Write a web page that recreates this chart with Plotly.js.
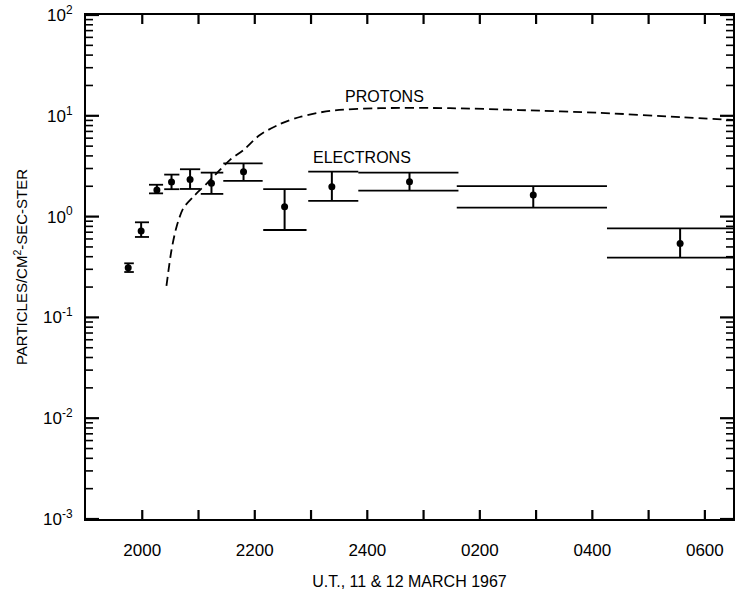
<!DOCTYPE html>
<html>
<head>
<meta charset="utf-8">
<script src="https://cdn.plot.ly/plotly-3.0.1.min.js"></script>
<style>
  html, body { margin: 0; padding: 0; background: #fff; }
  #chart { width: 736px; height: 592px; }
</style>
</head>
<body>
<div id="chart"></div>
<script>
// Time axis: decimal hours UT counted from 0000 on 11 March (values > 24 fall on 12 March)
const hourTicks  = [20, 21, 22, 23, 24, 25, 26, 27, 28, 29, 30];
const hourLabels = ["2000", "", "2200", "", "2400", "", "0200", "", "0400", "", "0600"];

// Electron counting intervals: start / end of each accumulation bin and time of the point
const binStart     = [19.68, 19.87, 20.12, 20.39, 20.67, 21.04, 21.44, 22.15, 22.95, 23.84, 25.59, 28.26];
const binEnd       = [19.85, 20.12, 20.37, 20.66, 21.03, 21.44, 22.14, 22.92, 23.84, 25.62, 28.26, 30.92];
const electronTime = [19.75, 19.98, 20.26, 20.52, 20.85, 21.23, 21.80, 22.53, 23.37, 24.75, 26.95, 29.56];

// Electron flux (particles/cm^2-sec-ster) with upper and lower limits
const electronFlux  = [0.31, 0.72, 1.84, 2.20, 2.34, 2.14, 2.79, 1.25, 1.98, 2.22, 1.64, 0.54];
const electronUpper = [0.344, 0.878, 2.07, 2.61, 2.95, 2.73, 3.38, 1.87, 2.79, 2.73, 2.01, 0.765];
const electronLower = [0.282, 0.628, 1.70, 1.87, 1.88, 1.68, 2.26, 0.736, 1.43, 1.81, 1.23, 0.391];

// Proton flux profile
const protonTime = [20.43, 20.52, 20.61, 20.73, 20.91, 21.15, 21.38, 21.56, 21.80, 22.09, 22.45, 22.80, 23.34, 24.23, 25.47, 26.71, 28.14, 29.56, 30.50];
const protonFlux = [0.205, 0.466, 0.794, 1.21, 1.58, 2.14, 2.90, 3.65, 4.58, 6.45, 8.29, 9.73, 11.2, 11.9, 11.9, 11.4, 10.7, 9.7, 9.1];

// Decade ticks on the flux axis
const decadeVals   = [0.001, 0.01, 0.1, 1, 10, 100];
const decadeLabels = ["10<sup>-3</sup>", "10<sup>-2</sup>", "10<sup>-1</sup>", "10<sup>0</sup>", "10<sup>1</sup>", "10<sup>2</sup>"];

// Minor log ticks 2..9 within each decade
const minorVals = [];
for (let d = 0; d < decadeVals.length - 1; d++) {
  for (let k = 2; k <= 9; k++) minorVals.push(k * decadeVals[d]);
}

// Horizontal limit lines spanning each counting interval
const capX = [], capY = [];
for (let i = 0; i < binStart.length; i++) {
  capX.push(binStart[i], binEnd[i], null, binStart[i], binEnd[i], null);
  capY.push(electronUpper[i], electronUpper[i], null, electronLower[i], electronLower[i], null);
}

// Frame geometry
const W = 736, H = 592, M = { l: 86, r: 3, t: 15, b: 73 };
const xRange = [19, 30.5], yRange = [-3, 2];
const hoursPerPx = (xRange[1] - xRange[0]) / (W - M.l - M.r);
const decadesPerPx = (yRange[1] - yRange[0]) / (H - M.t - M.b);

// Inward tick marks on all four sides of the frame, as short line segments
function tickSegments(yVals, lenPx, withHours) {
  const tx = [], ty = [];
  const dx = lenPx * hoursPerPx;
  yVals.forEach(v => {
    tx.push(xRange[0], xRange[0] + dx, null, xRange[1], xRange[1] - dx, null);
    ty.push(v, v, null, v, v, null);
  });
  if (withHours) {
    const dy = 9 * decadesPerPx;
    const lo = Math.pow(10, yRange[0]), hi = Math.pow(10, yRange[1]);
    hourTicks.forEach(h => {
      tx.push(h, h, null, h, h, null);
      ty.push(lo, Math.pow(10, yRange[0] + dy), null, hi, Math.pow(10, yRange[1] - dy), null);
    });
  }
  return { tx, ty };
}
const majorTicks = tickSegments(decadeVals, 13, true);
const minorTicks = tickSegments(minorVals, 7, false);

const font = "Liberation Sans, Arial, sans-serif";
const ink = "#000000";

const traces = [
  {
    x: protonTime, y: protonFlux,
    type: "scatter", mode: "lines",
    line: { color: ink, width: 1.8, dash: "9px,5px", shape: "spline", smoothing: 0.8 },
    showlegend: false
  },
  {
    x: capX, y: capY,
    type: "scatter", mode: "lines",
    line: { color: ink, width: 1.8 },
    connectgaps: false, showlegend: false
  },
  {
    x: electronTime, y: electronFlux,
    type: "scatter", mode: "markers",
    marker: { color: ink, size: 7, symbol: "circle" },
    error_y: {
      type: "data", symmetric: false,
      array: electronFlux.map((v, i) => electronUpper[i] - v),
      arrayminus: electronFlux.map((v, i) => v - electronLower[i]),
      color: ink, thickness: 2, width: 0
    },
    showlegend: false
  },
  {
    x: majorTicks.tx, y: majorTicks.ty, type: "scatter", mode: "lines",
    line: { color: ink, width: 2.2 }, connectgaps: false, showlegend: false
  },
  {
    x: minorTicks.tx, y: minorTicks.ty, type: "scatter", mode: "lines",
    line: { color: ink, width: 1.6 }, connectgaps: false, showlegend: false
  }
];

const layout = {
  width: W, height: H,
  margin: M,
  // transparent outside ticks only set the distance of the labels from the frame
  xaxis: {
    range: xRange,
    tickmode: "array", tickvals: hourTicks, ticktext: hourLabels,
    ticks: "outside", ticklen: 15, tickcolor: "rgba(255,255,255,0)",
    showline: true, linewidth: 2, linecolor: ink, mirror: true,
    showgrid: false, zeroline: false,
    tickfont: { family: font, size: 17, color: ink },
    title: { text: "U.T., 11 &amp; 12 MARCH 1967", font: { family: font, size: 16, color: ink }, standoff: 16 }
  },
  yaxis: {
    type: "log", range: yRange,
    tickmode: "array", tickvals: decadeVals, ticktext: decadeLabels,
    ticks: "outside", ticklen: 8, tickcolor: "rgba(255,255,255,0)",
    showline: true, linewidth: 2, linecolor: ink, mirror: true,
    showgrid: false, zeroline: false,
    tickfont: { family: font, size: 17, color: ink },
    title: { text: "PARTICLES/CM<sup>2</sup>-SEC-STER", font: { family: font, size: 15, color: ink }, standoff: 12 }
  },
  annotations: [
    { xref: "paper", yref: "paper", x: 0.462, y: 0.839, text: "PROTONS", showarrow: false,
      font: { family: font, size: 16, color: ink }, xanchor: "center", yanchor: "middle" },
    { xref: "paper", yref: "paper", x: 0.4266, y: 0.718, text: "ELECTRONS", showarrow: false,
      font: { family: font, size: 16, color: ink }, xanchor: "center", yanchor: "middle" }
  ]
};

Plotly.newPlot("chart", traces, layout, { staticPlot: true });
</script>
</body>
</html>
